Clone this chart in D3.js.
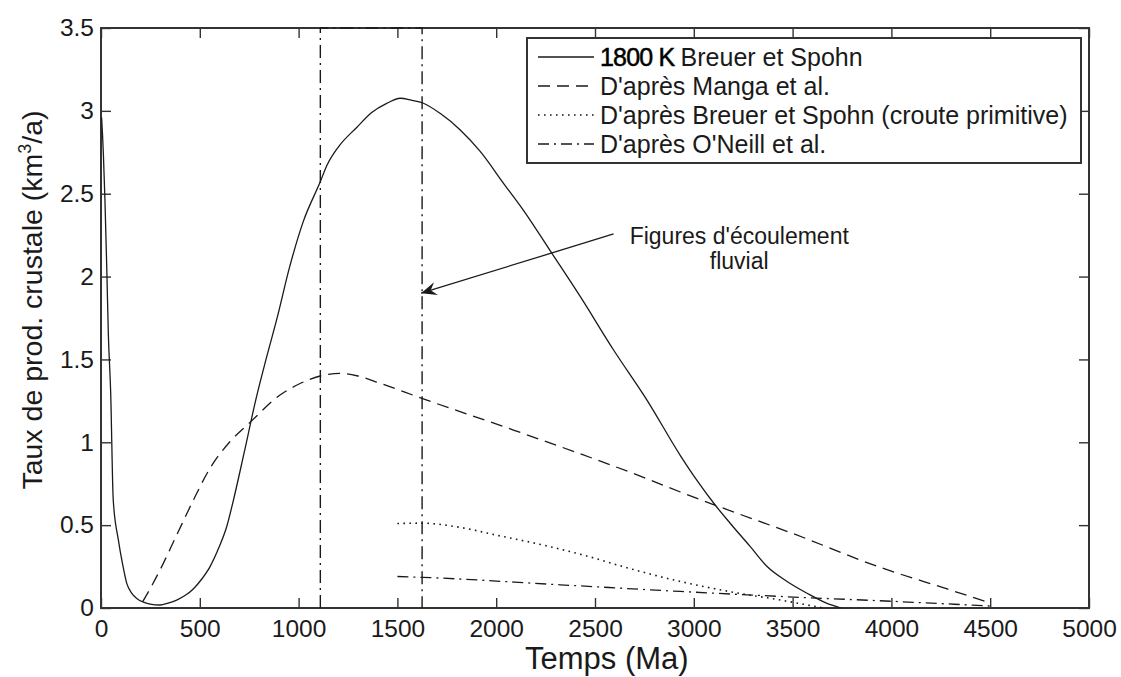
<!DOCTYPE html>
<html>
<head>
<meta charset="utf-8">
<script src="https://cdn.jsdelivr.net/npm/d3@7/dist/d3.min.js"></script>
<style>
  html, body { margin: 0; padding: 0; background: #fff; }
  svg { display: block; font-family: "Liberation Sans", Arial, Helvetica, sans-serif; }
</style>
</head>
<body>
<svg id="chart" width="1121" height="677"></svg>
<script>
// ---------- data ----------
const xTicks = [0, 500, 1000, 1500, 2000, 2500, 3000, 3500, 4000, 4500, 5000];
const yTicks = [0, 0.5, 1, 1.5, 2, 2.5, 3, 3.5];

// 1800 K Breuer et Spohn (solid)
const breuerX = [3, 8, 12, 20, 29, 37, 49, 62, 88, 110, 130, 155, 181, 215, 248, 299, 340, 383, 425, 467, 510, 552, 595, 636, 670, 725, 783, 835, 889, 955, 1023, 1109, 1143, 1200, 1294, 1370, 1446, 1514, 1570, 1632, 1716, 1818, 1919, 2037, 2138, 2282, 2425, 2594, 2763, 2932, 3016, 3109, 3185, 3286, 3371, 3472, 3573, 3674, 3745];
const breuerY = [2.96, 2.85, 2.74, 2.46, 2.06, 1.66, 1.30, 0.65, 0.41, 0.26, 0.15, 0.09, 0.058, 0.035, 0.024, 0.018, 0.03, 0.048, 0.075, 0.115, 0.175, 0.25, 0.36, 0.49, 0.65, 0.94, 1.255, 1.50, 1.74, 2.06, 2.33, 2.57, 2.67, 2.78, 2.90, 2.99, 3.045, 3.076, 3.065, 3.046, 2.985, 2.885, 2.755, 2.563, 2.40, 2.14, 1.88, 1.557, 1.255, 0.92, 0.77, 0.62, 0.51, 0.37, 0.25, 0.16, 0.089, 0.028, 0.0];

// D'après Manga et al. (dashed)
const mangaX = [211, 255, 299, 383, 467, 550, 650, 754, 906, 1000, 1109, 1210, 1300, 1413, 1624, 2087, 2763, 2932, 3109, 3500, 3944, 4282, 4500];
const mangaY = [0.038, 0.13, 0.23, 0.44, 0.65, 0.84, 1.0, 1.12, 1.285, 1.35, 1.40, 1.416, 1.40, 1.356, 1.265, 1.074, 0.78, 0.70, 0.62, 0.45, 0.245, 0.115, 0.03];

// D'après Breuer et Spohn (croute primitive) (dotted)
const primX = [1500, 1625, 1800, 2000, 2273, 2500, 2641, 2932, 3008, 3200, 3438, 3656];
const primY = [0.51, 0.512, 0.49, 0.44, 0.37, 0.30, 0.25, 0.16, 0.14, 0.095, 0.048, 0.0];

// D'après O'Neill et al. (dash-dot)
const oneillX = [1500, 1625, 2324, 2932, 3505, 4012, 4500];
const oneillY = [0.19, 0.185, 0.14, 0.10, 0.066, 0.04, 0.012];

// fluvial features interval (dash-dot box)
const fluvialBounds = [1110, 1625];
// annotation arrow: [x, y] start and tip
const arrowStart = [2594, 2.257];
const arrowTip = [1620, 1.90];
const annotLines = ["Figures d'écoulement", "fluvial"];
const annotPos = [[3230, 2.195], [3230, 2.045]];

const legendLabels = ["Breuer et Spohn", "D'après Manga et al.", "D'après Breuer et Spohn (croute primitive)", "D'après O'Neill et al."];

// ---------- layout ----------
const W = 1121, H = 677;
const m = { left: 101, top: 28, right: 32, bottom: 69 };
const pw = W - m.left - m.right, ph = H - m.top - m.bottom;
const ink = "#1a1a1a";
const fs = 24;

const svg = d3.select("#chart");
const g = svg.append("g").attr("transform", `translate(${m.left},${m.top})`);

const x = d3.scaleLinear().domain([0, 5000]).range([0, pw]);
const y = d3.scaleLinear().domain([0, 3.5]).range([ph, 0]);

// axes (inward ticks, box)
const tick = 10;
const xb = g.append("g").attr("transform", `translate(0,${ph})`)
  .call(d3.axisBottom(x).tickValues(xTicks).tickFormat(d3.format("d")).tickSizeInner(-tick).tickSizeOuter(0).tickPadding(12));
const xt = g.append("g")
  .call(d3.axisTop(x).tickValues(xTicks).tickFormat("").tickSizeInner(-tick).tickSizeOuter(0));
const yl = g.append("g")
  .call(d3.axisLeft(y).tickValues(yTicks).tickFormat(d3.format("")).tickSizeInner(-tick).tickSizeOuter(0).tickPadding(7));
const yr = g.append("g").attr("transform", `translate(${pw},0)`)
  .call(d3.axisRight(y).tickValues(yTicks).tickFormat("").tickSizeInner(-tick).tickSizeOuter(0));

[xb, xt, yl, yr].forEach(a => {
  a.select(".domain").remove();
  a.selectAll(".tick line").attr("stroke", "#333").attr("stroke-width", 1.4);
  a.selectAll(".tick text").attr("fill", ink).attr("font-size", 24.5).attr("font-family", "Liberation Sans, Arial, sans-serif");
});
xb.selectAll(".tick text").attr("dy", "0.71em");
g.append("rect").attr("x", 0).attr("y", 0).attr("width", pw).attr("height", ph)
  .attr("fill", "none").attr("stroke", "#333").attr("stroke-width", 2);

// ---------- series ----------
const line = d3.line().x(d => x(d[0])).y(d => y(d[1])).curve(d3.curveMonotoneX);
const straight = d3.line().x(d => x(d[0])).y(d => y(d[1]));
const zip = (a, b) => a.map((v, i) => [v, b[i]]);

const series = [
  { pts: zip(breuerX, breuerY), dash: null, w: 1.3 },
  { pts: zip(mangaX, mangaY), dash: "12,7", w: 1.3 },
  { pts: zip(primX, primY), dash: "1.6,4.4", w: 1.6 },
  { pts: zip(oneillX, oneillY), dash: "11,5,2,5", w: 1.3 }
];

// dash-dot interval lines
const [b0, b1] = fluvialBounds;
g.append("path")
  .attr("d", straight([[b0, 0], [b0, 3.5], [b1, 3.5], [b1, 0]]))
  .attr("fill", "none").attr("stroke", ink).attr("stroke-width", 1.4)
  .attr("stroke-dasharray", "13,5,2,5");

series.forEach(s => {
  g.append("path").attr("d", line(s.pts))
    .attr("fill", "none").attr("stroke", ink).attr("stroke-width", s.w)
    .attr("stroke-dasharray", s.dash);
});

// ---------- annotation ----------
svg.append("defs").append("marker")
  .attr("id", "arr").attr("markerUnits", "userSpaceOnUse")
  .attr("markerWidth", 20).attr("markerHeight", 20)
  .attr("refX", 0).attr("refY", 0).attr("viewBox", "-16 -8 18 16")
  .attr("orient", "auto")
  .append("path").attr("d", "M0,0 L-14,-6 L-9,0 L-14,6 Z").attr("fill", ink);

g.append("line")
  .attr("x1", x(arrowStart[0])).attr("y1", y(arrowStart[1]))
  .attr("x2", x(arrowTip[0])).attr("y2", y(arrowTip[1]))
  .attr("stroke", ink).attr("stroke-width", 1.3).attr("marker-end", "url(#arr)");

annotLines.forEach((t, i) => {
  g.append("text").attr("x", x(annotPos[i][0])).attr("y", y(annotPos[i][1]))
    .attr("text-anchor", "middle").attr("font-size", 23).attr("fill", ink).text(t);
});

// ---------- axis titles ----------
svg.append("text").attr("x", m.left + x(2560)).attr("y", 669)
  .attr("text-anchor", "middle").attr("font-size", 31).attr("fill", ink).text("Temps (Ma)");

const yt = svg.append("text").attr("transform", "translate(42,300) rotate(-90)")
  .attr("text-anchor", "middle").attr("font-size", 28.5).attr("fill", ink);
yt.append("tspan").text("Taux de prod. crustale (km");
yt.append("tspan").attr("dy", -11).attr("font-size", 18).text("3");
yt.append("tspan").attr("dy", 11).text("/a)");

// ---------- legend ----------
const lg = svg.append("g");
lg.append("rect").attr("x", 527).attr("y", 38).attr("width", 554).attr("height", 125)
  .attr("fill", "#fff").attr("stroke", "#333").attr("stroke-width", 2);
const rowY = [57, 86, 115, 144];
series.forEach((s, i) => {
  lg.append("line").attr("x1", 538).attr("x2", 594).attr("y1", rowY[i]).attr("y2", rowY[i])
    .attr("stroke", ink).attr("stroke-width", s.w).attr("stroke-dasharray", s.dash);
  const t = lg.append("text").attr("x", 600).attr("y", rowY[i] + 8.5).attr("font-size", 25).attr("fill", ink);
  if (i === 0) {
    t.append("tspan").attr("fill", "#000").attr("stroke", "#000").attr("stroke-width", 0.5)
      .attr("letter-spacing", -0.8).text("1800 K ");
  }
  t.append("tspan").text(legendLabels[i]);
});
</script>
</body>
</html>
